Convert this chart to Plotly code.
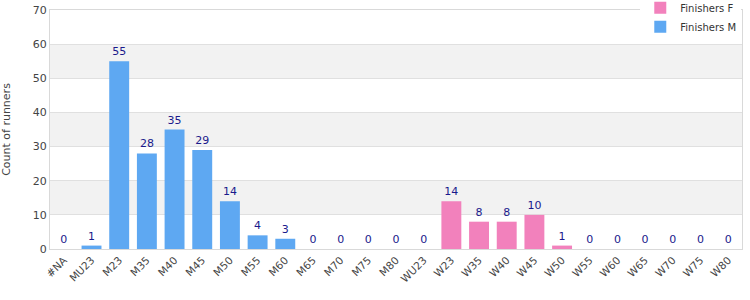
import plotly.graph_objects as go

categories = ["#NA", "MU23", "M23", "M35", "M40", "M45", "M50", "M55", "M60", "M65", "M70", "M75", "M80",
              "WU23", "W23", "W35", "W40", "W45", "W50", "W55", "W60", "W65", "W70", "W75", "W80"]
m_categories = categories[:13]
m_values = [0, 1, 55, 28, 35, 29, 14, 4, 3, 0, 0, 0, 0]
f_categories = categories[13:]
f_values = [0, 14, 8, 8, 10, 1, 0, 0, 0, 0, 0, 0]
y_ticks = [0, 10, 20, 30, 40, 50, 60, 70]

FONT = "DejaVu Sans, Verdana, sans-serif"
fig = go.Figure()
fig.add_trace(go.Bar(x=f_categories, y=f_values, name="Finishers F",
                     marker=dict(color="#F281BC", line=dict(width=0)),
                     text=[str(v) for v in f_values], textposition="outside",
                     textfont=dict(color="#1a1a8c", size=11, family=FONT), cliponaxis=False))
fig.add_trace(go.Bar(x=m_categories, y=m_values, name="Finishers M",
                     marker=dict(color="#5EA8F2", line=dict(width=0)),
                     text=[str(v) for v in m_values], textposition="outside",
                     textfont=dict(color="#1a1a8c", size=11, family=FONT), cliponaxis=False))

shapes = []
for lo, hi in zip(y_ticks[1::2], y_ticks[2::2]):
    shapes.append(dict(type="rect", xref="paper", yref="y", x0=0, x1=1, y0=lo, y1=hi,
                       fillcolor="#f2f2f2", line=dict(width=0), layer="below"))

fig.update_layout(
    width=750, height=300,
    margin=dict(l=50, r=8, t=10, b=51, autoexpand=False),
    barmode="overlay", bargap=0.28,
    plot_bgcolor="white", paper_bgcolor="white",
    font=dict(family=FONT, size=11, color="#444"),
    shapes=shapes,
    showlegend=True,
    legend=dict(x=0.853, y=1.07, xanchor="left", yanchor="top", bgcolor="white",
                font=dict(size=10, color="#333", family=FONT), tracegroupgap=0,
                itemwidth=30),
    uniformtext=dict(minsize=8, mode="show"),
)
fig.update_xaxes(type="category", categoryorder="array", categoryarray=categories,
                 tickangle=-45, showline=True, linecolor="#d9d9d9", mirror=True,
                 ticks="", tickfont=dict(size=10.5, color="#444", family=FONT))
fig.update_yaxes(range=[0, 70], tickvals=y_ticks, showgrid=True, gridcolor="#e0e0e0",
                 showline=True, linecolor="#d9d9d9", mirror=True, zeroline=False,
                 title=dict(text="Count of runners", font=dict(size=11, color="#444", family=FONT), standoff=20),
                 tickfont=dict(size=11, color="#444", family=FONT), ticks="")

fig.write_html("out.html")
